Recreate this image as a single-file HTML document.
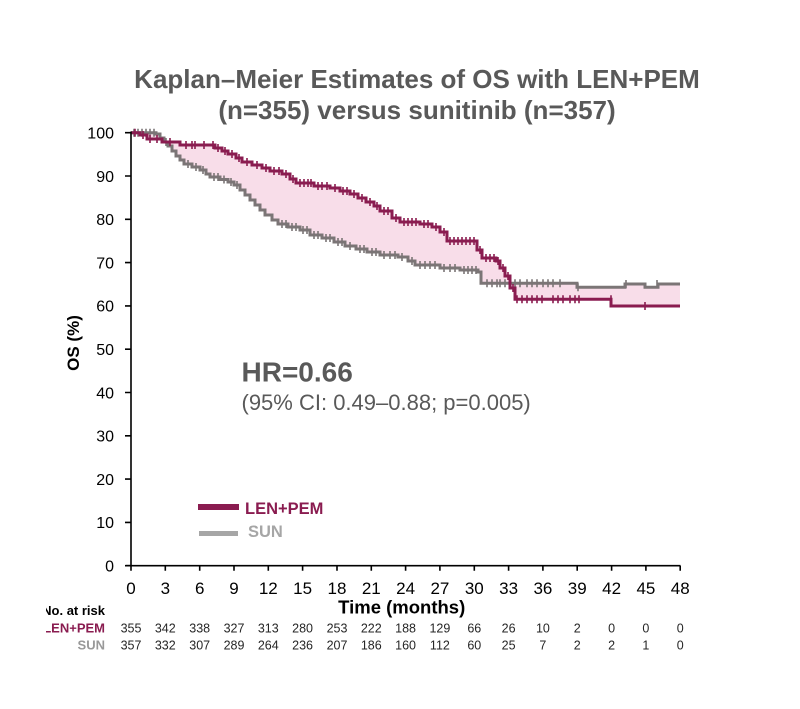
<!DOCTYPE html>
<html>
<head>
<meta charset="utf-8">
<style>
html,body{margin:0;padding:0;background:#fff;}
svg{display:block;}
text{font-family:"Liberation Sans",Arial,sans-serif;}
</style>
</head>
<body>
<svg width="800" height="709" viewBox="0 0 800 709" xmlns="http://www.w3.org/2000/svg">
<rect width="800" height="709" fill="#fff"/>
<defs>
<clipPath id="lc"><rect x="46" y="590" width="200" height="80"/></clipPath>
</defs>

<!-- Title -->
<text x="417" y="88" font-size="26" font-weight="bold" fill="#595959" text-anchor="middle">Kaplan–Meier Estimates of OS with LEN+PEM</text>
<text x="417" y="119" font-size="26" font-weight="bold" fill="#595959" text-anchor="middle">(n=355) versus sunitinib (n=357)</text>

<!-- Fill between curves (evenodd) -->
<path fill="#f8dde9" fill-rule="evenodd" stroke="none" d="
M131,132.7 H140 V135 H147 V139 H162 V142 H180 V145 H215 V148 H222 V151 H228 V154 H236 V158 H242 V162 H252 V165 H262 V168 H270 V171 H282 V174 H290 V179 H296 V183 H314 V186 H330 V188 H340 V191 H350 V194 H358 V198 H366 V202 H374 V206 H380 V211 H392 V218 H400 V222 H420 V224 H432 V227 H440 V232 H447 V241 H477 V250 H482 V258 H496 V261 H500 V268 H505 V276 H510 V288 H515 V299.3 H611 V306 H680 V420 H131 Z
M131,132.7 H156 V134 H160 V138 H164 V142 H168 V146 H172 V151 H176 V156 H180 V160 H184 V164 H192 V167 H200 V170 H206 V174 H210 V177 H220 V179.5 H228 V182 H234 V185 H240 V190 H245 V195 H250 V200 H255 V205 H260 V210 H265 V215 H272 V220 H278 V224 H288 V227 H300 V230 H310 V235 H322 V238 H334 V242 H345 V246 H356 V249 H367 V252 H380 V255 H398 V257 H408 V261 H415 V265 H440 V268 H460 V270 H478 V272 H481 V283.3 H577 V287.3 H625 V284 H645 V287.3 H658 V284 H680 V420 H131 Z"/>

<!-- SUN curve -->
<g stroke="#7b7576" fill="none">
<path stroke-width="3" d="M131,132.7 H156 V134 H160 V138 H164 V142 H168 V146 H172 V151 H176 V156 H180 V160 H184 V164 H192 V167 H200 V170 H206 V174 H210 V177 H220 V179.5 H228 V182 H234 V185 H240 V190 H245 V195 H250 V200 H255 V205 H260 V210 H265 V215 H272 V220 H278 V224 H288 V227 H300 V230 H310 V235 H322 V238 H334 V242 H345 V246 H356 V249 H367 V252 H380 V255 H398 V257 H408 V261 H415 V265 H440 V268 H460 V270 H478 V272 H481 V283.3 H577 V287.3 H625 V284 H645 V287.3 H658 V284 H680"/>
<path stroke-width="1.6" d="
M134,128.7v8 M138,128.7v8 M142,128.7v8 M146,128.7v8 M150,128.7v8 M154,128.7v8
M166,138v8 M188,160v8 M196,163v8 M203,166v8 M214,173v8 M218,173v8 M224,175.5v8 M231,178v8 M237,181v8
M282,220v8 M286,220v8 M292,223v8 M296,223v8 M303,226v8 M307,226v8 M314,231v8 M318,231v8
M326,234v8 M330,234v8 M338,238v8 M342,238v8 M350,242v8 M360,245v8 M364,245v8 M372,248v8 M376,248v8
M384,251v8 M390,251v8 M395,251v8 M402,253v8 M412,257v8 M420,261v8 M425,261v8 M430,261v8 M435,261v8
M444,264v8 M450,264v8 M455,264v8 M464,266v8 M468,266v8 M472,266v8 M476,266v8
M487,279.3v8 M492,279.3v8 M497,279.3v8 M500,279.3v8 M505,279.3v8 M510,279.3v8 M515,279.3v8 M520,279.3v8
M527,279.3v8 M532,279.3v8 M537,279.3v8 M543,279.3v8 M548,279.3v8 M553,279.3v8 M560,279.3v8
M578,283.3v8 M626,280v8 M657,280v8"/>
</g>

<!-- LEN+PEM curve -->
<g stroke="#8a1c50" fill="none">
<path stroke-width="3" d="M131,132.7 H140 V135 H147 V139 H162 V142 H180 V145 H215 V148 H222 V151 H228 V154 H236 V158 H242 V162 H252 V165 H262 V168 H270 V171 H282 V174 H290 V179 H296 V183 H314 V186 H330 V188 H340 V191 H350 V194 H358 V198 H366 V202 H374 V206 H380 V211 H392 V218 H400 V222 H420 V224 H432 V227 H440 V232 H447 V241 H477 V250 H482 V258 H496 V261 H500 V268 H505 V276 H510 V288 H515 V299.3 H611 V306 H680"/>
<path stroke-width="1.6" d="
M135,128.7v8 M143,131v8 M150,135v8 M157,135v8 M170,138v8
M186,141v8 M192,141v8 M195,141v8 M204,141v8 M213,141v8 M218,144v8 M225,147v8 M232,150v8 M239,154v8
M247,158v8 M257,161v8 M266,164v8 M274,167v8 M279,167v8 M286,170v8 M293,175v8
M300,179v8 M304,179v8 M308,179v8 M311,179v8 M318,182v8 M322,182v8 M327,182v8 M335,184v8
M343,187v8 M347,187v8 M354,190v8 M362,194v8 M370,198v8 M377,202v8 M384,207v8 M388,207v8 M396,214v8
M404,218v8 M408,218v8 M412,218v8 M416,218v8 M424,220v8 M428,220v8 M436,223v8 M444,228v8
M450,237v8 M454,237v8 M458,237v8 M462,237v8 M466,237v8 M470,237v8 M474,237v8 M480,246v8
M486,254v8 M490,254v8 M494,254v8 M498,257v8 M503,264v8 M508,272v8 M513,284v8
M517,295.3v8 M522,295.3v8 M527,295.3v8 M532,295.3v8 M537,295.3v8 M542,295.3v8 M553,295.3v8 M558,295.3v8
M563,295.3v8 M570,295.3v8 M575,295.3v8 M579,295.3v8 M611,295.3v8 M645,302v8"/>
</g>

<!-- Axes -->
<g stroke="#000" stroke-width="1.6" fill="none">
<path d="M131,131.5 V566.5 M126,565.7 H680.5"/>
<path d="M125,565.7h6 M125,522.4h6 M125,479.1h6 M125,435.8h6 M125,392.5h6 M125,349.2h6 M125,305.9h6 M125,262.6h6 M125,219.3h6 M125,176h6 M125,132.7h6"/>
<path d="M131,565.7v5 M165.3,565.7v5 M199.7,565.7v5 M234,565.7v5 M268.3,565.7v5 M302.6,565.7v5 M337,565.7v5 M371.3,565.7v5 M405.6,565.7v5 M439.9,565.7v5 M474.3,565.7v5 M508.6,565.7v5 M542.9,565.7v5 M577.2,565.7v5 M611.6,565.7v5 M645.9,565.7v5 M680.2,565.7v5"/>
</g>

<!-- Y labels -->
<g font-size="16" fill="#000" text-anchor="end">
<text x="114" y="571.5">0</text>
<text x="114" y="528.2">10</text>
<text x="114" y="484.9">20</text>
<text x="114" y="441.6">30</text>
<text x="114" y="398.3">40</text>
<text x="114" y="355">50</text>
<text x="114" y="311.7">60</text>
<text x="114" y="268.4">70</text>
<text x="114" y="225.1">80</text>
<text x="114" y="181.8">90</text>
<text x="114" y="138.5">100</text>
</g>
<text transform="translate(79,343) rotate(-90)" font-size="17" font-weight="bold" fill="#000" text-anchor="middle">OS (%)</text>

<!-- X labels -->
<g font-size="17" fill="#000" text-anchor="middle">
<text x="131" y="594">0</text>
<text x="165.3" y="594">3</text>
<text x="199.7" y="594">6</text>
<text x="234" y="594">9</text>
<text x="268.3" y="594">12</text>
<text x="302.6" y="594">15</text>
<text x="337" y="594">18</text>
<text x="371.3" y="594">21</text>
<text x="405.6" y="594">24</text>
<text x="439.9" y="594">27</text>
<text x="474.3" y="594">30</text>
<text x="508.6" y="594">33</text>
<text x="542.9" y="594">36</text>
<text x="577.2" y="594">39</text>
<text x="611.6" y="594">42</text>
<text x="645.9" y="594">45</text>
<text x="680.2" y="594">48</text>
</g>
<text x="401.7" y="613.5" font-size="18.5" font-weight="bold" fill="#000" text-anchor="middle">Time (months)</text>

<!-- HR text -->
<text x="241.5" y="381.7" font-size="28" font-weight="bold" fill="#595959">HR=0.66</text>
<text x="241.5" y="410" font-size="22" fill="#595959">(95% CI: 0.49–0.88; p=0.005)</text>

<!-- Legend -->
<rect x="198" y="504" width="41" height="6" fill="#8a1c50"/>
<text x="245" y="514" font-size="16.5" font-weight="bold" fill="#8a1c50">LEN+PEM</text>
<rect x="199" y="531" width="39" height="5" fill="#a6a6a6"/>
<text x="248" y="537" font-size="16.5" font-weight="bold" fill="#a6a6a6">SUN</text>

<!-- Risk table labels -->
<g clip-path="url(#lc)" font-size="13" font-weight="bold" text-anchor="end">
<text x="105" y="615" fill="#000">No. at risk</text>
<text x="105" y="632.5" fill="#8a1c50">LEN+PEM</text>
<text x="105" y="649.3" fill="#999">SUN</text>
</g>

<g font-size="12.5" fill="#262626" text-anchor="middle">
<text x="131" y="632.5">355</text>
<text x="165.3" y="632.5">342</text>
<text x="199.7" y="632.5">338</text>
<text x="234" y="632.5">327</text>
<text x="268.3" y="632.5">313</text>
<text x="302.6" y="632.5">280</text>
<text x="337" y="632.5">253</text>
<text x="371.3" y="632.5">222</text>
<text x="405.6" y="632.5">188</text>
<text x="439.9" y="632.5">129</text>
<text x="474.3" y="632.5">66</text>
<text x="508.6" y="632.5">26</text>
<text x="542.9" y="632.5">10</text>
<text x="577.2" y="632.5">2</text>
<text x="611.6" y="632.5">0</text>
<text x="645.9" y="632.5">0</text>
<text x="680.2" y="632.5">0</text>

<text x="131" y="649.3">357</text>
<text x="165.3" y="649.3">332</text>
<text x="199.7" y="649.3">307</text>
<text x="234" y="649.3">289</text>
<text x="268.3" y="649.3">264</text>
<text x="302.6" y="649.3">236</text>
<text x="337" y="649.3">207</text>
<text x="371.3" y="649.3">186</text>
<text x="405.6" y="649.3">160</text>
<text x="439.9" y="649.3">112</text>
<text x="474.3" y="649.3">60</text>
<text x="508.6" y="649.3">25</text>
<text x="542.9" y="649.3">7</text>
<text x="577.2" y="649.3">2</text>
<text x="611.6" y="649.3">2</text>
<text x="645.9" y="649.3">1</text>
<text x="680.2" y="649.3">0</text>
</g>
</svg>
</body>
</html>
